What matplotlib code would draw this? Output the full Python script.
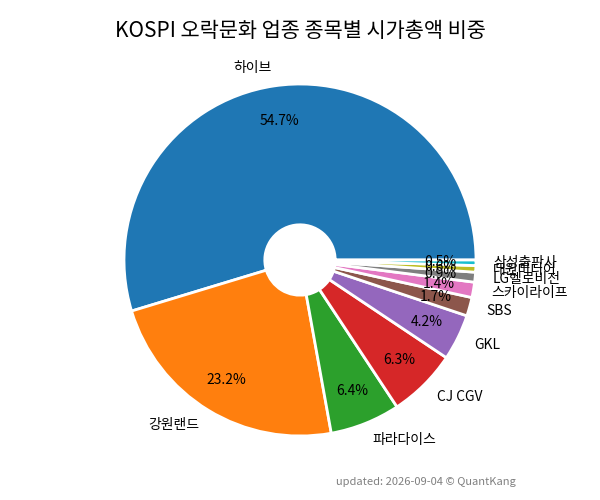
import matplotlib.pyplot as plt
plt.rcParams['font.family'] = ['Noto Sans CJK KR', 'DejaVu Sans']

labels = ['하이브', '강원랜드', '파라다이스', 'CJ CGV', 'GKL', 'SBS', '스카이라이프', 'LG헬로비전', '대원미디어', '삼성출판사']
values = [54.3, 23.0, 6.4, 6.3, 4.2, 1.7, 1.4, 0.9, 0.6, 0.5]

fig = plt.figure(figsize=(6, 5), dpi=100)
ax = fig.add_axes([0.12, 0.08, 0.76, 0.8])
ax.pie(values, labels=labels, autopct='%1.1f%%', startangle=0, counterclock=True,
       pctdistance=0.8, labeldistance=1.1, radius=1.1,
       wedgeprops=dict(width=0.88, edgecolor='white', linewidth=2),
       textprops=dict(fontsize=10))
ax.set_aspect('equal')
fig.suptitle('KOSPI 오락문화 업종 종목별 시가총액 비중', fontsize=15, y=0.96)
fig.text(0.86, 0.03, 'updated: 2026-09-04 © QuantKang', ha='right', fontsize=8, color='gray')
fig.savefig('out.png')
